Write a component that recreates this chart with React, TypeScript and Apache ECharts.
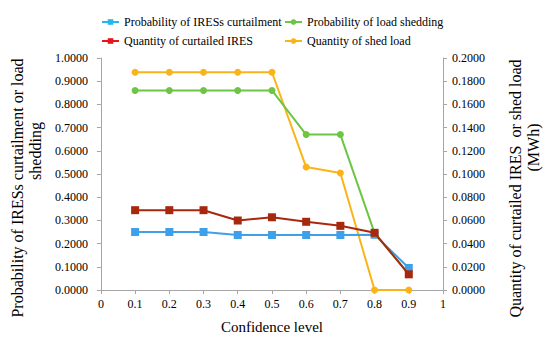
import React, { useEffect, useRef } from "react";
import * as echarts from "echarts";

const confidence = [0.1, 0.2, 0.3, 0.4, 0.5, 0.6, 0.7, 0.8, 0.9];
const probIRES = [0.25, 0.25, 0.25, 0.237, 0.237, 0.237, 0.237, 0.238, 0.095];
const probLoad = [0.86, 0.86, 0.86, 0.86, 0.86, 0.67, 0.67, 0.245, 0.068];
const qtyIRES = [0.0688, 0.0688, 0.0688, 0.0599, 0.0627, 0.0588, 0.0553, 0.0493, 0.0135];
const qtyLoad = [0.1877, 0.1877, 0.1877, 0.1877, 0.1877, 0.106, 0.1009, 0, 0];

const FONT = "Liberation Serif, Times New Roman, serif";

export default function App() {
  const ref = useRef<HTMLDivElement>(null);
  useEffect(() => {
    const chart = echarts.init(ref.current!, undefined, { renderer: "svg" });
    const pair = (arr: number[]) => confidence.map((c, i) => [c, arr[i]]);
    const axisColor = "#a6a6a6";
    const mk = (name: string, data: number[], color: string, symbol: string, size: number, yIdx: number, z: number) => ({
      name,
      type: "line",
      yAxisIndex: yIdx,
      data: pair(data),
      symbol,
      symbolSize: size,
      z,
      lineStyle: { color, width: 2 },
      itemStyle: { color },
    });
    const txt = (size: number) => ({ fontFamily: FONT, fontSize: size, color: "#000" });
    const legendText = { ...txt(12), rich: { s: txt(12) } };
    const legItem = (name: string, color: string) => ({
      name,
      itemStyle: { color },
      lineStyle: { color, width: 2 },
    });
    const nameStyle = (padA: number[], padB: number[]) => ({
      ...txt(16),
      lineHeight: 18,
      rich: {
        a: { ...txt(16), lineHeight: 18, padding: padA },
        b: { ...txt(16), lineHeight: 18, padding: padB },
      },
    });
    const labelStyle = (margin: number, fmt: (v: number) => string) => ({
      ...txt(12),
      margin,
      rich: { s: txt(12) },
      formatter: (v: number) => `{s|${fmt(v)}}`,
    });
    chart.setOption({
      animation: false,
      textStyle: { fontFamily: FONT },
      grid: { left: 96, right: 93, top: 58, bottom: 48 },
      legend: [
        {
          left: 96,
          top: 11,
          orient: "vertical",
          itemGap: 7,
          itemWidth: 17,
          itemHeight: 7,
          textStyle: legendText,
          formatter: (n: string) => `{s|${n}}`,
          data: [
            legItem("Probability of IRESs curtailment", "#2ab4ee"),
            legItem("Quantity of curtailed IRES", "#e4161c"),
          ],
        },
        {
          left: 279,
          top: 11,
          orient: "vertical",
          itemGap: 7,
          itemWidth: 17,
          itemHeight: 7,
          textStyle: legendText,
          formatter: (n: string) => `{s|${n}}`,
          data: [
            legItem("Probability of load shedding", "#6cc644"),
            legItem("Quantity of shed load", "#fbb418"),
          ],
        },
      ],
      xAxis: {
        type: "value",
        min: 0,
        max: 1,
        interval: 0.1,
        name: "{s|Confidence level}",
        nameLocation: "middle",
        nameGap: 29,
        nameTextStyle: { ...txt(15), rich: { s: txt(15) } },
        axisLine: { lineStyle: { color: axisColor } },
        axisTick: { lineStyle: { color: axisColor }, length: 4 },
        splitLine: { show: false },
        axisLabel: labelStyle(8, (v) => String(Math.round(v * 10) / 10)),
      },
      yAxis: [
        {
          type: "value",
          min: 0,
          max: 1,
          interval: 0.1,
          name: "{a|Probability of IRESs curtailment or load}\n{b|shedding}",
          nameLocation: "middle",
          nameGap: 48,
          nameTextStyle: nameStyle([0, 28, 0, 0], [0, 0, 0, 46]),
          axisLine: { show: true, lineStyle: { color: axisColor } },
          axisTick: { show: true, lineStyle: { color: axisColor }, length: 4 },
          splitLine: { show: false },
          axisLabel: labelStyle(13, (v) => v.toFixed(4)),
        },
        {
          type: "value",
          min: 0,
          max: 0.2,
          interval: 0.02,
          position: "right",
          name: "{a|Quantity of curtailed IRES  or shed load}\n{b|(MWh)}",
          nameLocation: "middle",
          nameGap: 63,
          nameRotate: 90,
          nameTextStyle: nameStyle([0, 29, 0, 0], [0, 0, 0, 53]),
          axisLine: { show: true, lineStyle: { color: axisColor } },
          axisTick: { show: true, lineStyle: { color: axisColor }, length: 4 },
          splitLine: { show: false },
          axisLabel: labelStyle(9, (v) => v.toFixed(4)),
        },
      ],
      series: [
        mk("Probability of IRESs curtailment", probIRES, "#3fa0ea", "rect", 8, 0, 2),
        mk("Probability of load shedding", probLoad, "#6cc644", "circle", 7, 0, 3),
        mk("Quantity of curtailed IRES", qtyIRES, "#a8280e", "rect", 8, 1, 4),
        mk("Quantity of shed load", qtyLoad, "#fbb418", "circle", 7, 1, 1),
      ],
    });
    return () => chart.dispose();
  }, []);
  return <div ref={ref} style={{ position: "absolute", left: 0, top: 0, width: 550, height: 339 }} />;
}
